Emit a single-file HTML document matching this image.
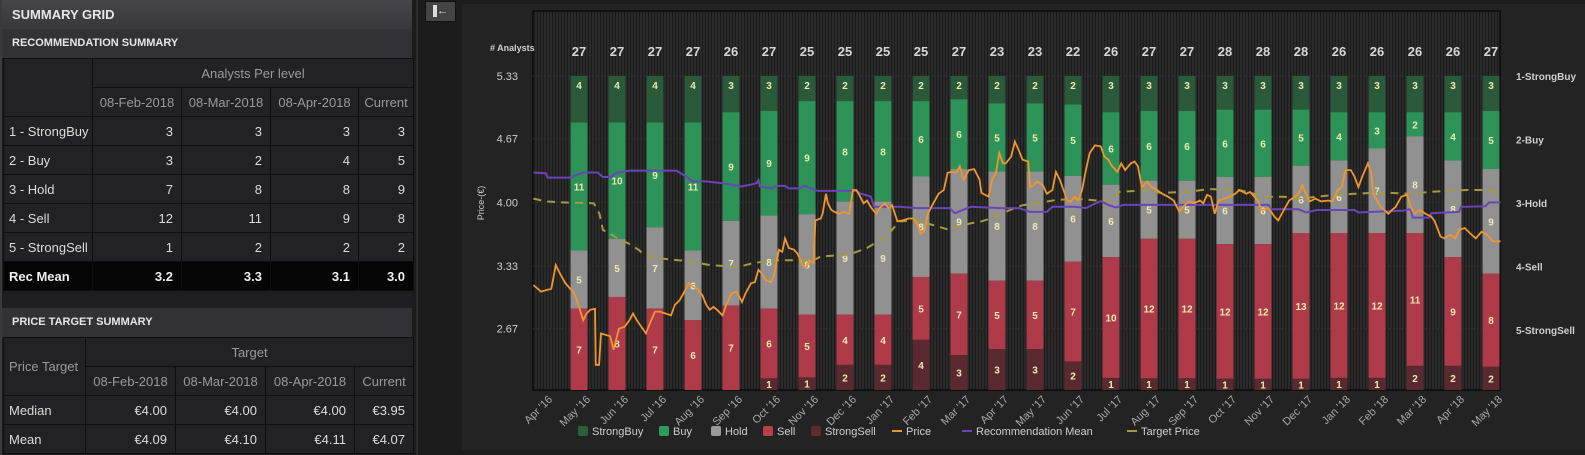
<!DOCTYPE html>
<html><head><meta charset="utf-8">
<style>
*{box-sizing:border-box;margin:0;padding:0}
body{width:1585px;height:455px;background:#1c1c1c;font-family:"Liberation Sans",sans-serif;overflow:hidden;position:relative}
#left{position:absolute;left:0;top:0;width:412px;height:455px;background:#1e1e20;border-left:2px solid #3a3a3a}
.hdr{position:absolute;left:0;width:410px;color:#e6e6e6;font-weight:bold;padding-left:10px}
table{position:absolute;left:1px;border-collapse:collapse;background:#222224;color:#dcdcdc;font-size:13px;table-layout:fixed}
td{border:1px solid #0e0e0e;height:29px;text-align:right;padding-right:8px;white-space:nowrap;overflow:hidden}
td.l{text-align:left;padding-left:5px;padding-right:0}
td.h{color:#9a9a9a;text-align:center;padding:0}
tr.rm td{background:#050505;font-weight:bold;color:#eee}
#chartbox{position:absolute;left:462px;top:4px;width:1123px;height:446px;background:#232323}
</style></head><body>
<div id="left">
 <div class="hdr" style="top:0;height:29px;line-height:29px;font-size:13px;background:linear-gradient(#46464a,#38383c)">SUMMARY GRID</div>
 <div class="hdr" style="top:29px;height:29px;line-height:29px;font-size:11px;background:#323236">RECOMMENDATION SUMMARY</div>
 <table style="top:58px;width:410px">
  <colgroup><col style="width:89px"><col style="width:89px"><col style="width:89px"><col style="width:88px"><col style="width:55px"></colgroup>
  <tr style="height:28px"><td class="h" rowspan="2"></td><td class="h" colspan="4">Analysts Per level</td></tr>
  <tr style="height:27px"><td class="h">08-Feb-2018</td><td class="h">08-Mar-2018</td><td class="h">08-Apr-2018</td><td class="h">Current</td></tr>
  <tr><td class="l">1 - StrongBuy</td><td>3</td><td>3</td><td>3</td><td>3</td></tr>
  <tr><td class="l">2 - Buy</td><td>3</td><td>2</td><td>4</td><td>5</td></tr>
  <tr><td class="l">3 - Hold</td><td>7</td><td>8</td><td>8</td><td>9</td></tr>
  <tr><td class="l">4 - Sell</td><td>12</td><td>11</td><td>9</td><td>8</td></tr>
  <tr><td class="l">5 - StrongSell</td><td>1</td><td>2</td><td>2</td><td>2</td></tr>
  <tr class="rm"><td class="l">Rec Mean</td><td>3.2</td><td>3.3</td><td>3.1</td><td>3.0</td></tr>
 </table>
 <div class="hdr" style="top:308px;height:29px;line-height:29px;font-size:11px;background:#323236">PRICE TARGET SUMMARY</div>
 <table style="top:337px;width:410px">
  <colgroup><col style="width:82px"><col style="width:90px"><col style="width:90px"><col style="width:89px"><col style="width:59px"></colgroup>
  <tr style="height:27px"><td class="h l" rowspan="2" style="text-align:left;padding-left:5px">Price Target</td><td class="h" colspan="4">Target</td></tr>
  <tr style="height:27px"><td class="h">08-Feb-2018</td><td class="h">08-Mar-2018</td><td class="h">08-Apr-2018</td><td class="h">Current</td></tr>
  <tr style="height:27px"><td class="l">Median</td><td>€4.00</td><td>€4.00</td><td>€4.00</td><td>€3.95</td></tr>
  <tr style="height:28px"><td class="l">Mean</td><td>€4.09</td><td>€4.10</td><td>€4.11</td><td>€4.07</td></tr>
 </table>
</div>
<div style="position:absolute;left:416px;top:0;width:2px;height:455px;background:#2c2c2c"></div>
<div style="position:absolute;left:425px;top:1px;width:31px;height:21px;background:#444;border:1px solid #111;color:#ddd;font-size:11px;text-align:center;line-height:19px"><span style="display:inline-block;width:4px;height:12px;background:#ddd;vertical-align:middle"></span>&#8592;</div>
<div id="chartbox"></div>
<svg id="chart" width="1585" height="455" style="position:absolute;left:0;top:0" font-family="Liberation Sans, sans-serif">
<defs><pattern id="stripes" width="3" height="10" patternUnits="userSpaceOnUse"><rect width="3" height="10" fill="#2a2a2a"/><rect width="1" height="10" fill="#1b1b1b"/></pattern></defs>
</svg>
<script>
const months=["Apr '16","May '16","Jun '16","Jul '16","Aug '16","Sep '16","Oct '16","Nov '16","Dec '16","Jan '17","Feb '17","Mar '17","Apr '17","May '17","Jun '17","Jul '17","Aug '17","Sep '17","Oct '17","Nov '17","Dec '17","Jan '18","Feb '18","Mar '18","Apr '18","May '18"];
const strongBuy=[4,4,4,4,3,3,2,2,2,2,2,2,2,2,3,3,3,3,3,3,3,3,3,3,3];
const buy=[11,10,9,11,9,9,9,8,8,6,6,5,5,5,6,6,6,6,6,5,4,3,2,4,5];
const hold=[5,5,7,6,7,8,8,9,9,8,9,8,8,6,6,5,5,6,6,6,6,7,8,8,9];
const sell=[7,8,7,6,7,6,5,4,4,5,7,5,5,7,10,12,12,12,12,13,12,12,11,9,8];
const strongSell=[0,0,0,0,0,1,1,2,2,4,3,3,3,2,1,1,1,1,1,1,1,1,2,2,2];
const priceTicks=[5.33,4.67,4.00,3.33,2.67];
const recTicks=["1-StrongBuy","2-Buy","3-Hold","4-Sell","5-StrongSell"];
const priceT=[-0.2,0.0,0.27,0.39,0.5,0.64,0.88,1.0,1.11,1.2,1.3,1.42,1.44,1.53,1.58,1.82,1.91,2.05,2.2,2.33,2.42,2.52,2.76,2.9,3.0,3.13,3.42,3.52,3.65,3.8,3.89,4.0,4.12,4.25,4.35,4.44,4.54,4.63,4.78,4.87,5.01,5.15,5.29,5.38,5.53,5.63,5.72,5.81,5.91,6.05,6.14,6.26,6.35,6.42,6.52,6.66,6.75,6.89,6.97,7.06,7.17,7.22,7.36,7.41,7.5,7.55,7.64,7.73,7.83,7.97,8.11,8.21,8.3,8.4,8.49,8.58,8.68,8.82,8.91,9.05,9.15,9.24,9.38,9.52,9.67,9.8,9.9,9.99,10.08,10.18,10.27,10.46,10.6,10.7,10.79,10.93,11.02,11.12,11.26,11.4,11.54,11.59,11.78,11.87,11.97,12.06,12.16,12.23,12.37,12.47,12.57,12.67,12.82,12.87,12.96,13.06,13.21,13.31,13.46,13.55,13.65,13.75,13.85,13.95,14.04,14.14,14.24,14.34,14.44,14.58,14.73,14.83,14.93,15.03,15.17,15.27,15.37,15.52,15.62,15.71,15.81,15.96,16.06,16.21,16.35,16.5,16.65,16.8,16.89,17.04,17.19,17.34,17.43,17.53,17.63,17.73,17.83,17.97,18.12,18.27,18.37,18.56,18.66,18.86,18.96,19.15,19.3,19.4,19.55,19.69,19.84,19.94,20.04,20.13,20.23,20.38,20.53,20.72,20.82,20.97,21.07,21.17,21.31,21.41,21.51,21.61,21.76,21.85,21.9,22.0,22.1,22.3,22.39,22.49,22.64,22.79,22.89,22.98,23.13,23.28,23.43,23.52,23.67,23.77,23.92,24.06,24.16,24.31,24.46,24.6,24.75,24.9,25.05,25.25];
const priceV=[3.13,3.06,3.09,3.34,3.25,3.15,3.04,2.90,2.76,2.83,2.87,2.88,2.29,2.29,2.62,2.59,2.45,2.67,2.69,2.76,2.83,2.76,2.62,2.76,2.85,2.85,2.81,2.92,2.97,3.08,3.15,3.11,3.09,3.02,2.92,2.87,2.90,2.87,2.81,2.92,3.04,3.06,2.95,3.04,3.15,3.16,3.29,3.25,3.18,3.16,3.24,3.50,3.48,3.62,3.52,3.50,3.46,3.34,3.31,3.39,3.36,3.81,3.83,3.88,4.09,3.99,3.92,3.90,3.88,3.90,3.88,4.13,4.13,4.06,3.99,4.02,3.95,3.88,3.94,3.99,3.94,3.97,3.80,3.81,3.83,3.83,3.78,3.67,3.69,3.88,3.95,4.09,4.13,4.31,4.32,4.31,4.38,4.24,4.34,4.35,4.24,4.10,4.06,4.24,4.31,4.52,4.41,4.41,4.48,4.64,4.55,4.45,4.43,4.16,4.18,4.22,4.18,4.09,4.13,4.32,4.24,4.13,4.02,4.01,4.06,4.02,4.13,4.34,4.52,4.60,4.59,4.48,4.45,4.38,4.32,4.41,4.34,4.41,4.43,4.38,4.16,4.22,4.16,4.13,4.09,4.06,4.02,3.90,3.95,4.01,3.99,4.02,3.99,4.08,4.06,3.88,4.02,4.04,4.06,4.09,4.13,4.09,4.11,4.02,3.92,3.94,3.85,3.81,3.92,4.02,4.06,4.09,4.18,4.09,4.01,4.04,4.01,4.02,4.01,4.13,4.16,4.34,4.34,4.27,4.16,4.27,4.41,4.31,4.09,4.02,3.95,3.88,3.92,3.95,4.06,4.08,3.95,3.88,3.92,3.88,3.85,3.80,3.64,3.62,3.66,3.62,3.71,3.73,3.67,3.62,3.69,3.66,3.59,3.59];
const recT=[-0.2,0.13,0.17,0.74,1.11,1.49,1.63,1.82,2.01,2.33,3.56,3.84,3.98,4.35,4.78,5.29,5.67,5.72,5.76,6.05,6.23,6.42,6.52,6.8,6.94,7.27,8.3,8.4,8.68,8.77,9.43,9.9,10.75,10.89,11.31,12.08,12.57,12.87,13.31,13.46,14.04,14.34,14.58,14.73,14.93,15.13,15.32,19.15,19.2,19.94,20.13,20.43,21.41,21.51,22.69,22.89,22.94,23.38,23.43,24.16,24.21,24.85,24.95,25.25];
const recV=[2.52,2.53,2.60,2.60,2.52,2.52,2.59,2.59,2.52,2.49,2.49,2.59,2.66,2.66,2.69,2.74,2.69,2.64,2.74,2.77,2.73,2.73,2.77,2.77,2.73,2.81,2.81,2.85,2.90,3.06,3.06,3.08,3.08,3.16,3.06,3.08,3.08,3.14,3.14,3.06,3.06,3.08,3.01,2.97,3.03,3.07,3.03,3.03,3.10,3.10,3.15,3.11,3.11,3.15,3.12,3.10,3.23,3.23,3.16,3.14,3.06,3.05,2.99,2.99];
const tgtT=[-0.2,0.13,0.5,1.39,1.54,1.63,1.82,2.01,2.29,2.57,2.71,3.13,3.89,4.45,5.2,5.58,6.14,7.17,7.36,7.74,8.11,8.58,8.87,9.15,9.43,9.9,10.75,10.93,11.31,11.59,11.97,12.34,12.67,13.06,13.46,14.04,14.63,15.03,15.22,16.01,16.3,16.99,17.58,18.37,18.76,18.96,19.55,19.94,20.43,20.92,21.41,21.9,22.39,22.89,23.38,23.87,24.36,24.85,25.25];
const tgtV=[4.04,4.01,4.00,3.99,3.88,3.71,3.67,3.62,3.57,3.50,3.45,3.41,3.38,3.34,3.32,3.36,3.39,3.39,3.43,3.44,3.45,3.52,3.59,3.67,3.80,3.81,3.71,3.74,3.78,3.80,3.85,3.92,3.97,3.99,4.02,4.04,4.02,4.02,4.11,4.13,4.10,4.11,4.14,4.13,4.09,4.06,4.06,4.04,4.06,4.08,4.09,4.10,4.10,4.09,4.11,4.12,4.13,4.13,4.10];

const NS="http://www.w3.org/2000/svg";
const svg=document.getElementById('chart');
const L=533,R=1500,T=11,B=390,BTOP=76;
const xS=t=>541+38*t;
const yP=v=>76+(5.33-v)*95;
const yR=r=>76+(r-1)*63.5;
function mk(tag,attrs,parent){const e=document.createElementNS(NS,tag);for(const k in attrs)e.setAttribute(k,attrs[k]);(parent||svg).appendChild(e);return e;}
function txt(s,attrs){const e=mk('text',attrs);e.textContent=s;return e;}

const bgR=mk('rect',{x:L,y:T,width:R-L,height:B-T,fill:'url(#stripes)',stroke:'#0a0a0a','stroke-width':1.5});



priceTicks.forEach(v=>{
 const g=mk('line',{x1:L,x2:R,y1:yP(v),y2:yP(v),stroke:'#3a3a3a','stroke-dasharray':'1,3'});
 
 
 const t=txt(v.toFixed(2),{x:518,y:yP(v)+4,'text-anchor':'end','font-size':11,fill:'#cfcfcf'});
 
 
});
recTicks.forEach((s,i)=>{
 const t=txt(s,{x:1516,y:yR(i+1)+4,'font-size':10,'font-weight':'bold',fill:'#cfcfcf'});
 
 
});
const yt=txt('Price-(€)',{x:0,y:0,'font-size':9,fill:'#cfcfcf','text-anchor':'middle',transform:'translate(484,203) rotate(-90)'});


const at=txt('# Analysts',{x:490,y:51,'font-size':9,'font-weight':'bold',fill:'#cfcfcf'});



const segs=[strongBuy,buy,hold,sell,strongSell];
const cols=['#2b5e3d','#2f9c5d','#9a9a9a','#bb3c4d','#5e2a31'];
const segNames=['strongbuy','buy','hold','sell','strongsell'];
for(let i=0;i<strongBuy.length;i++){
 const total=segs.reduce((a,s)=>a+s[i],0);
 const cx=xS(i+1);
 let y=BTOP;
 const tot=txt(String(total),{x:cx,y:56,'text-anchor':'middle','font-size':13,'font-weight':'bold',fill:'#d6d6d6'});
 
 
 segs.forEach((s,k)=>{
  const h=s[i]/total*(B-BTOP);
  if(s[i]>0){
   const r=mk('rect',{x:cx-8.5,y:y,width:17,height:h,fill:cols[k],'fill-opacity':0.92});
   
   
   const lt=txt(String(s[i]),{x:cx,y:(k===0?y+13:y+h/2+4),'text-anchor':'middle','font-size':10,'font-weight':'bold',fill:'#ecebb0'});
   
   
  }
  y+=h;
 });
}
function path(ts,vs,yf){return ts.map((t,i)=>(i?'L':'M')+xS(t).toFixed(1)+','+yf(vs[i]).toFixed(1)).join('');}
const tl=mk('path',{d:path(tgtT,tgtV,yP),fill:'none',stroke:'#a59a3c','stroke-width':2,'stroke-dasharray':'8,6'});


const rl=mk('path',{d:path(recT,recV,yR),fill:'none',stroke:'#6b44b8','stroke-width':2});


const pl=mk('path',{d:path(priceT,priceV,yP),fill:'none',stroke:'#f0962e','stroke-width':1.8});



months.forEach((m,i)=>{
 const x=xS(i)+12;
 const t=txt(m,{x:x,y:400,'text-anchor':'end','font-size':11,fill:'#a8a8a8',transform:`rotate(-45 ${x} 400)`});
 
 
});

const legend=[['StrongBuy','sq','#2b5e3d',578],['Buy','sq','#2f9c5d',659],['Hold','sq','#9a9a9a',711],['Sell','sq','#bb3c4d',763],['StrongSell','sq','#5e2a31',811],['Price','ln','#f0962e',892],['Recommendation Mean','ln','#6b44b8',962],['Target Price','ln','#a59a3c',1127]];
legend.forEach(([n,tp,c,x])=>{
 const g=mk('g',{});
 
 
 if(tp==='sq')mk('rect',{x:x,y:426,width:10,height:10,rx:2,fill:c},g);
 else mk('rect',{x:x,y:430,width:10,height:2,fill:c},g);
 const t=mk('text',{x:x+14,y:435,'font-size':11,fill:'#cfcfcf'},g);
 t.textContent=n;
});
</script>
</body></html>
